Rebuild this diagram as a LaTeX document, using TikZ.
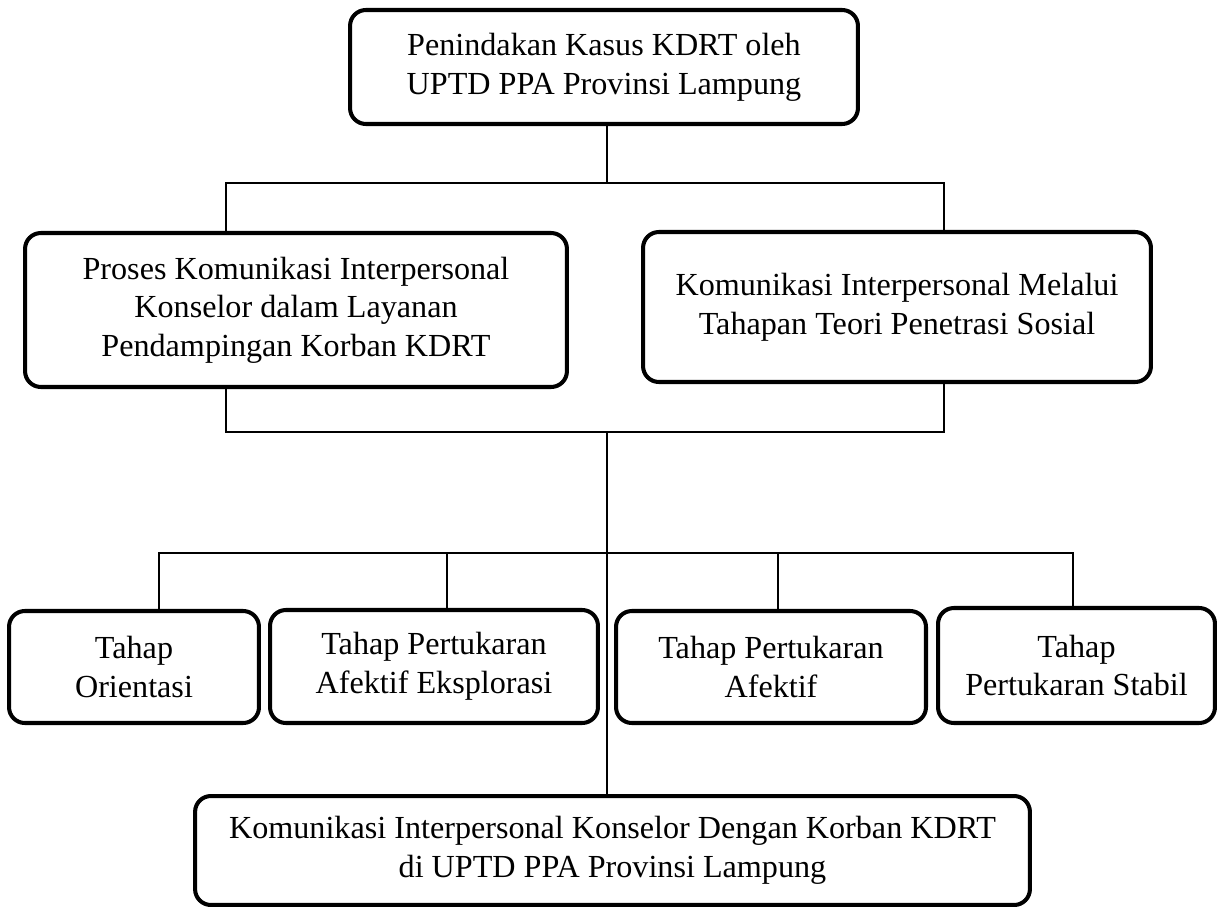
\documentclass[tikz,border=0pt]{standalone}
\usepackage{fontspec}
\setmainfont{Liberation Serif}
\usetikzlibrary{calc}

\tikzset{
  box/.style={draw,line width=2.3pt,rounded corners=9pt,align=center,inner sep=0pt,
    font=\fontsize{18.3}{22}\selectfont},
  link/.style={line width=0.85pt},
}

\begin{document}
\begin{tikzpicture}[x=0.02cm,y=-0.02cm]
  \useasboundingbox (0,0) rectangle (1217,906);
  % top of the tree
  \node[box,minimum width=10.16cm,minimum height=2.28cm] (top) at (604,67)
    {Penindakan Kasus KDRT oleh\\UPTD PPA Provinsi Lampung};
  % second level
  \node[box,minimum width=10.84cm,minimum height=3.08cm] (proses) at (296,310)
    {Proses Komunikasi Interpersonal\\Konselor dalam Layanan\\Pendampingan Korban KDRT};
  \node[box,minimum width=10.16cm,minimum height=3.00cm] (teori) at (897,307)
    {Komunikasi Interpersonal Melalui\\Tahapan Teori Penetrasi Sosial};
  % stages of social penetration
  \node[box,minimum width=5.00cm,minimum height=2.24cm] (orientasi) at (134,667)
    {Tahap\\Orientasi};
  \node[box,minimum width=6.56cm,minimum height=2.26cm] (eksplorasi) at (434,666.5)
    {Tahap Pertukaran\\Afektif Eksplorasi};
  \node[box,minimum width=6.20cm,minimum height=2.24cm] (afektif) at (771,667)
    {Tahap Pertukaran\\Afektif};
  \node[box,minimum width=5.54cm,minimum height=2.30cm] (stabil) at (1076.5,665.5)
    {Tahap\\Pertukaran Stabil};
  % result
  \node[box,minimum width=16.70cm,minimum height=2.18cm] (hasil) at (612.5,850.5)
    {Komunikasi Interpersonal Konselor Dengan Korban KDRT\\di UPTD PPA Provinsi Lampung};

  % bus lines
  \coordinate (bus1) at (607,183);
  \coordinate (bus1l) at (226,183);
  \coordinate (bus1r) at (944,183);
  \coordinate (bus2) at (607,432);
  \coordinate (bus2l) at (226,432);
  \coordinate (bus2r) at (944,432);
  \coordinate (bus3l) at (159,553);
  \coordinate (bus3r) at (1073,553);
  \coordinate (drop2) at (447,553);
  \coordinate (drop3) at (778,553);

  \draw[link] (top.south -| bus1) -- (bus1);
  \draw[link] (proses.north -| bus1l) -- (bus1l) -- (bus1r) -- (teori.north -| bus1r);
  \draw[link] (proses.south -| bus2l) -- (bus2l) -- (bus2r) -- (teori.south -| bus2r);
  \draw[link] (bus2) -- (hasil.north -| bus2);
  \draw[link] (orientasi.north -| bus3l) -- (bus3l) -- (bus3r) -- (stabil.north -| bus3r);
  \draw[link] (drop2) -- (eksplorasi.north -| drop2);
  \draw[link] (drop3) -- (afektif.north -| drop3);
\end{tikzpicture}
\end{document}
